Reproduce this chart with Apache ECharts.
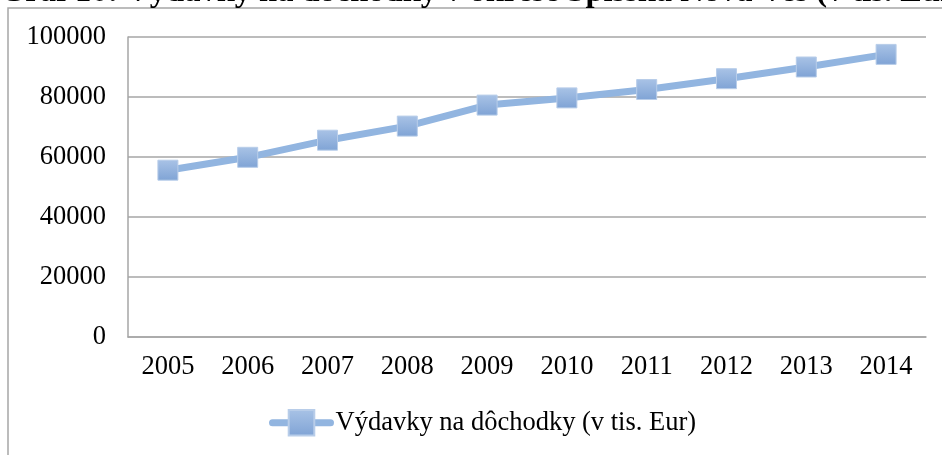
<!DOCTYPE html>
<html>
<head>
<meta charset="utf-8">
<script src="https://cdn.jsdelivr.net/npm/echarts@6/dist/echarts.min.js"></script>
<style>
  html, body { margin: 0; padding: 0; background: #fff; }
  #chart { width: 942px; height: 455px; }
</style>
</head>
<body>
<div id="chart"></div>
<script>
// dáta z grafu
const titleText = 'Graf 10: Výdavky na dôchodky v okrese Spišská Nová Ves (v tis. Eur)';
const seriesName = 'Výdavky na dôchodky (v tis. Eur)';
const years = ['2005', '2006', '2007', '2008', '2009', '2010', '2011', '2012', '2013', '2014'];
const vydavky = [55600, 59900, 65600, 70300, 77300, 79700, 82500, 86100, 90000, 94200];
const yTicks = [0, 20000, 40000, 60000, 80000, 100000];

let myChart = echarts.init(document.getElementById('chart'));
const serif = '"Liberation Serif", "Times New Roman", serif';

let option = {
  animation: false,
  graphic: [
    {
      type: 'rect',
      shape: { x: 8, y: 8, width: 1000, height: 500 },
      style: { fill: 'none', stroke: '#a6a6a6', lineWidth: 1.5 },
      z: -1
    },
    {
      type: 'text',
      x: 0,
      y: 9,
      style: {
        text: titleText,
        font: 'bold 32.5px ' + serif,
        fill: '#000',
        verticalAlign: 'bottom'
      }
    }
  ],
  grid: { left: 128, top: 37, width: 798, height: 300 },
  legend: {
    left: 264,
    top: 404,
    itemWidth: 58,
    itemHeight: 32,
    textStyle: { fontFamily: serif, fontSize: 26.5, color: '#000' },
    lineStyle: { width: 7, cap: 'round' },
    data: [seriesName]
  },
  xAxis: {
    type: 'category',
    data: years,
    axisLine: { lineStyle: { color: '#a6a6a6', width: 1.5 } },
    axisTick: { show: false },
    axisLabel: { fontFamily: serif, fontSize: 26.5, color: '#000', margin: 17 }
  },
  yAxis: {
    type: 'value',
    min: yTicks[0],
    max: yTicks[yTicks.length - 1],
    interval: yTicks[1] - yTicks[0],
    axisLine: { show: true, lineStyle: { color: '#a6a6a6', width: 1.5 } },
    axisTick: { show: false },
    splitLine: { lineStyle: { color: '#a6a6a6', width: 1.5 } },
    axisLabel: {
      fontFamily: serif, fontSize: 26.5, color: '#000', margin: 22,
      formatter: function (v) { return String(v); }
    }
  },
  series: [
    {
      name: seriesName,
      type: 'line',
      data: vydavky,
      symbol: 'rect',
      symbolSize: 20,
      lineStyle: { color: '#92b5e0', width: 7 },
      itemStyle: {
        color: new echarts.graphic.LinearGradient(0, 0, 0, 1, [
          { offset: 0, color: '#a9c3e6' },
          { offset: 1, color: '#7fa3d5' }
        ]),
        borderColor: '#b8cde9',
        borderWidth: 1
      }
    }
  ]
};
myChart.setOption(option);
</script>
</body>
</html>
